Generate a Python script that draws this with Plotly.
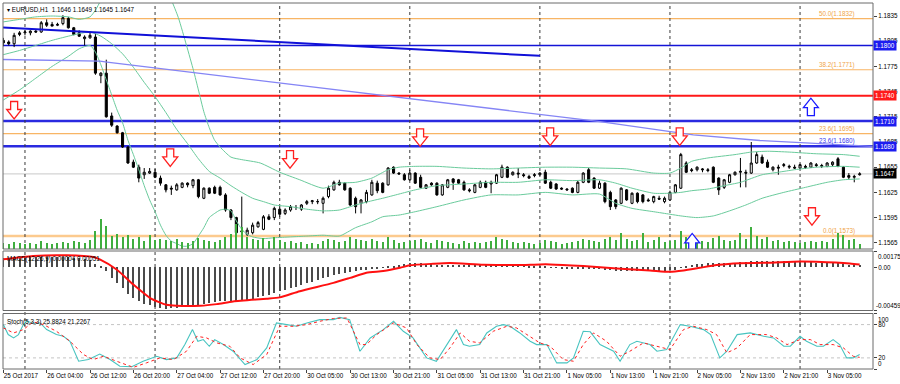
import plotly.graph_objects as go

# ---------------- data ----------------
bars = list(range(159))

open_ = [1.1806,1.1804,1.1802,1.1813,1.1815,1.1815,1.1817,1.1816,1.1827,1.1825,
 1.1824,1.1826,1.1832,1.1821,1.1815,1.1808,1.1809,1.1810,1.1764,1.1767,
 1.1716,1.1704,1.1696,1.1679,1.1661,1.1655,1.1646,1.1648,1.1649,1.1642,
 1.1634,1.1630,1.1628,1.1631,1.1636,1.1633,1.1640,1.1618,1.1630,1.1631,
 1.1631,1.1622,1.1604,1.1595,1.1578,1.1575,1.1577,1.1584,1.1581,1.1596,
 1.1595,1.1605,1.1600,1.1604,1.1607,1.1605,1.1612,1.1614,1.1614,1.1612,
 1.1620,1.1628,1.1637,1.1636,1.1630,1.1618,1.1612,1.1614,1.1622,1.1636,
 1.1636,1.1634,1.1655,1.1648,1.1646,1.1640,1.1648,1.1643,1.1630,1.1636,
 1.1636,1.1622,1.1631,1.1641,1.1640,1.1637,1.1628,1.1625,1.1631,1.1637,
 1.1635,1.1636,1.1643,1.1655,1.1646,1.1648,1.1646,1.1644,1.1645,1.1646,
 1.1649,1.1637,1.1635,1.1630,1.1629,1.1630,1.1625,1.1637,1.1652,1.1642,
 1.1630,1.1636,1.1625,1.1616,1.1612,1.1628,1.1612,1.1624,1.1622,1.1616,
 1.1614,1.1618,1.1614,1.1616,1.1625,1.1630,1.1660,1.1652,1.1652,1.1653,
 1.1652,1.1655,1.1642,1.1631,1.1637,1.1646,1.1649,1.1649,1.1648,1.1660,
 1.1667,1.1661,1.1652,1.1655,1.1657,1.1655,1.1655,1.1654,1.1656,1.1655,
 1.1658,1.1656,1.1656,1.1658,1.1665,1.1655,1.1645,1.1643,1.1646]
high = [1.1809,1.1806,1.1815,1.1817,1.1818,1.1818,1.1819,1.1829,1.1831,1.1828,
 1.1827,1.1836,1.1834,1.1822,1.1818,1.1812,1.1815,1.1814,1.1768,1.1783,
 1.1720,1.1705,1.1697,1.1680,1.1664,1.1658,1.1654,1.1654,1.1653,1.1645,
 1.1635,1.1633,1.1636,1.1637,1.1637,1.1641,1.1641,1.1631,1.1631,1.1633,
 1.1633,1.1624,1.1605,1.1596,1.1620,1.1583,1.1589,1.1591,1.1598,1.1599,
 1.1608,1.1608,1.1606,1.1610,1.1610,1.1611,1.1616,1.1616,1.1617,1.1620,
 1.1633,1.1639,1.1640,1.1637,1.1631,1.1620,1.1617,1.1628,1.1640,1.1639,
 1.1637,1.1655,1.1656,1.1649,1.1648,1.1652,1.1649,1.1646,1.1635,1.1637,
 1.1637,1.1635,1.1641,1.1642,1.1641,1.1639,1.1630,1.1635,1.1639,1.1639,
 1.1639,1.1647,1.1658,1.1656,1.1650,1.1654,1.1648,1.1646,1.1648,1.1649,
 1.1652,1.1639,1.1636,1.1631,1.1630,1.1631,1.1639,1.1649,1.1654,1.1643,
 1.1639,1.1637,1.1627,1.1617,1.1631,1.1629,1.1625,1.1625,1.1623,1.1618,
 1.1621,1.1621,1.1620,1.1627,1.1635,1.1672,1.1662,1.1654,1.1656,1.1654,
 1.1654,1.1656,1.1643,1.1641,1.1647,1.1650,1.1666,1.1652,1.1685,1.1673,
 1.1670,1.1664,1.1656,1.1658,1.1660,1.1658,1.1658,1.1659,1.1658,1.1661,
 1.1660,1.1659,1.1661,1.1662,1.1667,1.1656,1.1648,1.1646,1.1649]
low = [1.1799,1.1800,1.1798,1.1811,1.1812,1.1812,1.1815,1.1815,1.1822,1.1823,
 1.1823,1.1824,1.1820,1.1812,1.1810,1.1800,1.1808,1.1765,1.1755,1.1714,
 1.1703,1.1695,1.1678,1.1659,1.1654,1.1637,1.1641,1.1647,1.1642,1.1633,
 1.1625,1.1622,1.1627,1.1630,1.1631,1.1630,1.1618,1.1617,1.1623,1.1623,
 1.1621,1.1602,1.1592,1.1574,1.1573,1.1573,1.1575,1.1583,1.1580,1.1592,
 1.1592,1.1596,1.1598,1.1602,1.1604,1.1603,1.1610,1.1611,1.1611,1.1600,
 1.1618,1.1627,1.1633,1.1627,1.1609,1.1600,1.1600,1.1612,1.1621,1.1624,
 1.1624,1.1633,1.1647,1.1646,1.1639,1.1639,1.1635,1.1630,1.1629,1.1633,
 1.1621,1.1621,1.1630,1.1628,1.1635,1.1627,1.1625,1.1624,1.1630,1.1630,
 1.1624,1.1635,1.1642,1.1642,1.1645,1.1642,1.1643,1.1641,1.1643,1.1645,
 1.1635,1.1629,1.1628,1.1628,1.1627,1.1624,1.1624,1.1636,1.1636,1.1629,
 1.1629,1.1612,1.1604,1.1605,1.1611,1.1615,1.1611,1.1612,1.1612,1.1614,
 1.1612,1.1616,1.1612,1.1615,1.1624,1.1629,1.1648,1.1649,1.1650,1.1649,
 1.1649,1.1636,1.1622,1.1629,1.1636,1.1645,1.1631,1.1631,1.1647,1.1659,
 1.1659,1.1654,1.1650,1.1646,1.1655,1.1653,1.1653,1.1653,1.1653,1.1654,
 1.1655,1.1654,1.1655,1.1656,1.1655,1.1642,1.1640,1.1637,1.1645]
close = [1.1803,1.1802,1.1812,1.1815,1.1816,1.1817,1.1816,1.1827,1.1824,1.1823,
 1.1825,1.1833,1.1821,1.1813,1.1811,1.1810,1.1812,1.1767,1.1767,1.1715,
 1.1705,1.1696,1.1679,1.1660,1.1655,1.1642,1.1649,1.1650,1.1643,1.1636,
 1.1628,1.1629,1.1634,1.1636,1.1634,1.1640,1.1620,1.1630,1.1624,1.1624,
 1.1622,1.1604,1.1595,1.1577,1.1579,1.1580,1.1586,1.1589,1.1596,1.1593,
 1.1606,1.1599,1.1604,1.1608,1.1607,1.1610,1.1614,1.1615,1.1614,1.1618,
 1.1630,1.1637,1.1634,1.1628,1.1610,1.1608,1.1616,1.1625,1.1637,1.1627,
 1.1625,1.1654,1.1648,1.1647,1.1640,1.1648,1.1636,1.1631,1.1634,1.1634,
 1.1622,1.1634,1.1640,1.1637,1.1636,1.1628,1.1627,1.1634,1.1637,1.1631,
 1.1637,1.1646,1.1655,1.1643,1.1649,1.1647,1.1645,1.1642,1.1646,1.1648,
 1.1636,1.1630,1.1629,1.1629,1.1628,1.1625,1.1637,1.1648,1.1637,1.1630,
 1.1636,1.1614,1.1608,1.1608,1.1630,1.1616,1.1624,1.1614,1.1614,1.1615,
 1.1620,1.1617,1.1618,1.1625,1.1634,1.1670,1.1649,1.1651,1.1655,1.1652,
 1.1651,1.1637,1.1628,1.1640,1.1646,1.1649,1.1650,1.1648,1.1660,1.1670,
 1.1660,1.1655,1.1655,1.1654,1.1658,1.1656,1.1654,1.1658,1.1655,1.1660,
 1.1657,1.1657,1.1660,1.1661,1.1656,1.1643,1.1643,1.1644,1.1647]
volume = [600,500,700,600,500,600,500,800,600,500,600,700,600,800,700,600,900,
 1800,3000,2300,1300,1500,1200,1400,1000,1200,800,1400,900,1000,900,
 800,1000,700,600,800,1100,900,800,700,900,1200,1500,2500,2200,
 1200,1000,900,1100,800,1200,900,700,800,600,700,500,600,500,
 800,1000,900,700,800,1200,1000,900,800,1000,800,700,1200,900,
 600,700,800,900,1000,700,600,900,800,700,600,500,800,600,
 700,600,700,800,1200,1000,900,700,600,700,600,500,600,900,
 800,700,500,600,700,800,1000,900,800,700,1000,1200,900,1600,
 1000,800,900,1600,700,900,1200,700,800,900,1800,1200,1300,900,
 800,700,1100,1300,900,800,900,1600,1000,2200,1300,1000,1200,800,
 900,700,800,700,600,700,800,700,800,700,1000,1600,1400,900,1000,500]

bb_up_x = [0,3,6,9,12,14,16,17,18,19,21,24,27,29,31,32.3,33.8,35.1,36,37,38,39,40,42,44,
           47.4,51,54.7,59,62,65,68,71,73,76,80,85,90,95,100,105,110,115,120,123,125,127,
           130,135,138,141,145,150,155,158]
bb_up = [1.1828,1.1831,1.1834,1.1835,1.1834,1.1831,1.1834,1.1842,1.1854,1.1872,1.1896,1.1902,
         1.1896,1.1878,1.1854,1.1833,1.1800,1.1770,1.1747,1.1721,1.1702,1.1687,1.1679,1.1667,
         1.1664,1.1660,1.1649,1.1640,1.1630,1.1636,1.1637,1.1642,1.1652,1.1655,1.1656,1.1656,
         1.1654,1.1653,1.1654,1.1655,1.1655,1.1654,1.1653,1.1648,1.1648,1.1654,1.1662,1.1666,
         1.1670,1.1673,1.1674,1.1673,1.1671,1.1670,1.1668]
bb_mid_x = [0,3,6,9,12,14,16,18,20,22,24,26,28,30,32,34,36,38,40,42,44,46,48,50,53,56,59,62,
            65,68,70,73,76,80,85,90,95,100,105,110,113,116,120,123,125,127,130,133,136,140,
            143,146,150,155,158]
bb_mid = [1.1789,1.1794,1.1800,1.1806,1.1811,1.1814,1.1816,1.1811,1.1802,1.1790,1.1774,1.1756,
          1.1739,1.1720,1.1700,1.1683,1.1665,1.1650,1.1642,1.1633,1.1625,1.1618,1.1614,1.1610,
          1.1608,1.1605,1.1603,1.1604,1.1610,1.1615,1.1618,1.1623,1.1628,1.1633,1.1635,1.1637,
          1.1637,1.1640,1.1639,1.1640,1.1636,1.1630,1.1624,1.1624,1.1625,1.1627,1.1629,1.1633,
          1.1637,1.1646,1.1649,1.1652,1.1655,1.1656,1.1655]
bb_low_x = [0,3,6,9,12,14,16,17,18,19,20,21,22,23,24,25,26,27,28,29,30,31,32,33,34,35,36,37,
            38,39,40,41,42,43,44,45,46,48,50,53,56,59,62,65,68,70,73,76,80,85,90,95,100,105,
            110,113,116,120,123,125,128,131,134,137,140,144,148,152,155,158]
bb_low = [1.1735,1.1747,1.1761,1.1775,1.1787,1.1796,1.1800,1.1792,1.1777,1.1759,1.1741,1.1723,
          1.1708,1.1687,1.1670,1.1652,1.1633,1.1616,1.1602,1.1586,1.1574,1.1567,1.1564,1.1561,
          1.1561,1.1564,1.1573,1.1583,1.1595,1.1600,1.1604,1.1605,1.1603,1.1591,1.1581,1.1575,
          1.1572,1.1570,1.1571,1.1572,1.1573,1.1574,1.1573,1.1583,1.1590,1.1596,1.1598,1.1602,
          1.1608,1.1616,1.1622,1.1622,1.1625,1.1622,1.1623,1.1612,1.1606,1.1602,1.1599,1.1597,
          1.1595,1.1597,1.1603,1.1610,1.1618,1.1625,1.1631,1.1637,1.1640,1.1641]

macd_hist = [0.00097,0.00097,0.00100,0.00104,0.00104,0.00108,0.00108,0.00111,0.00111,0.00111,
 0.00111,0.00115,0.00111,0.00104,0.00097,0.00086,0.00079,0.00039,0.00018,-0.00039,
 -0.00111,-0.00165,-0.00219,-0.00283,-0.00326,-0.00362,-0.00387,-0.00405,-0.00423,-0.00434,
 -0.00441,-0.00437,-0.00430,-0.00423,-0.00412,-0.00401,-0.00398,-0.00387,-0.00376,-0.00366,
 -0.00358,-0.00358,-0.00362,-0.00362,-0.00355,-0.00344,-0.00333,-0.00319,-0.00305,-0.00290,
 -0.00272,-0.00254,-0.00240,-0.00222,-0.00204,-0.00186,-0.00168,-0.00151,-0.00133,-0.00115,
 -0.00097,-0.00082,-0.00068,-0.00057,-0.00047,-0.00039,-0.00032,-0.00025,-0.00018,-0.00011,
 -0.00004,0.00007,0.00018,0.00025,0.00036,0.00043,0.00047,0.00043,0.00039,0.00036,
 0.00029,0.00025,0.00025,0.00025,0.00025,0.00022,0.00022,0.00022,0.00022,0.00025,
 0.00025,0.00029,0.00032,0.00032,0.00029,0.00025,0.00022,0.00018,0.00014,0.00011,
 0.00011,0.00004,-0.00004,-0.00007,-0.00011,-0.00014,-0.00014,-0.00011,-0.00011,-0.00014,
 -0.00018,-0.00025,-0.00032,-0.00036,-0.00036,-0.00036,-0.00036,-0.00039,-0.00039,-0.00039,
 -0.00039,-0.00039,-0.00036,-0.00032,-0.00025,-0.00004,0.00011,0.00022,0.00032,0.00039,
 0.00043,0.00047,0.00043,0.00043,0.00047,0.00050,0.00054,0.00057,0.00065,0.00068,
 0.00068,0.00068,0.00065,0.00065,0.00065,0.00061,0.00061,0.00061,0.00057,0.00054,
 0.00050,0.00047,0.00047,0.00043,0.00043,0.00036,0.00029,0.00025,0.00022]
macd_sig_x = [0,5.5,11.7,16.6,17.8,20.9,24,27.1,30.1,32,36.3,39.4,42.4,48.6,51,54.7,60.9,64,67,
              70.1,73.2,75,79.3,82.4,88.6,94.7,99,100.9,107,113.2,119.3,123,125.5,128.5,131.6,
              134.7,140.8,147,150,156.2,158]
macd_sig = [0.00086,0.00122,0.00129,0.00111,0.00086,-0.00022,-0.00183,-0.00326,-0.00398,-0.00409,
            -0.00409,-0.00391,-0.00362,-0.00333,-0.00319,-0.00254,-0.00165,-0.00111,-0.00057,
            -0.00039,-0.00004,0.00022,0.00039,0.00047,0.00029,0.00025,0.00032,0.00032,0.00014,
            -0.00011,-0.00032,-0.00047,-0.00032,-0.00004,0.00025,0.00043,0.00050,0.00064,0.00061,
            0.00043,0.00032]

stoch_main_x = [0,0.9,1.9,2.8,3.7,4.3,5.5,6.8,8,9.8,11.1,12.3,13.9,15.7,17.8,19.7,21.5,23.7,25.8,
                28.3,30.1,32,33.5,34.9,35.9,36.9,38,39,40.6,42.4,44.6,46.8,48.6,50.4,52.3,54.1,
                56,58.4,60.9,62.1,63.9,65.8,67.7,70.1,72,73.8,75.6,78.1,79.9,82.4,83.6,84.9,86,
                87.9,89.2,91,92.3,93.5,95.3,97.2,98.4,100.3,102.1,104,105.2,107,108.3,110.1,
                112.6,113.8,115.6,116.9,119.3,120.6,122.4,124.9,126.7,129.2,130.5,132.2,133.5,
                135.4,137.8,140.3,142.1,144,145.2,147,148.2,150.1,151.3,153.1,154.3,155.6,156.8,158]
stoch_main = [80,62,56,62,80,86,83,83,71,62,59,50,14,17,27,17,5,4,14,23,17,20,44,71,50,53,41,53,
              44,32,8,17,38,83,80,77,83,89,89,93,89,32,56,71,86,68,56,20,14,53,71,44,41,44,65,
              77,80,77,65,50,44,44,11,11,20,68,67,44,32,14,44,50,44,32,35,80,77,71,62,20,32,62,
              65,59,56,41,41,59,50,41,41,53,44,20,20,26]
stoch_sig_x = [0,1.9,3.7,5.5,7.4,9.8,12.3,14.8,16.6,18.5,20.9,24,26.4,28.9,31.4,33.8,35.7,37.5,
               39.4,41.8,43.7,46.1,48.6,51,53.5,56,58.4,60.9,63.4,65.8,67,68.9,72,74.4,76.3,78.7,
               80.6,82.4,84.3,86,87.9,90.4,92.9,94.7,96.6,99,100.9,103.3,105.2,107,108.9,111.3,
               113.8,115.6,118.1,120.6,123,125.5,127.3,129.8,131.6,133.5,135.4,137.8,140.8,142.7,
               144.6,147,148.9,150.7,153.1,155,156.8,158]
stoch_sig = [74,65,71,85,80,68,50,26,17,23,14,3,11,20,17,32,59,56,47,41,20,8,26,77,77,80,86,91,
             92,44,44,62,83,74,44,20,17,38,65,50,47,68,77,74,62,47,41,17,14,44,65,50,23,32,47,
             41,35,71,77,71,62,29,38,62,62,56,44,53,53,44,44,38,23,21]

x_tick_bars = [0,8,16,24,32,40,48,56,64,72,80,88,96,104,112,120,128,136,144,152]
x_tick_labels = ["25 Oct 2017","26 Oct 04:00","26 Oct 12:00","26 Oct 20:00","27 Oct 04:00",
                 "27 Oct 12:00","27 Oct 20:00","30 Oct 05:00","30 Oct 13:00","30 Oct 21:00",
                 "31 Oct 05:00","31 Oct 13:00","31 Oct 21:00","1 Nov 05:00","1 Nov 13:00",
                 "1 Nov 21:00","2 Nov 05:00","2 Nov 13:00","2 Nov 21:00","3 Nov 05:00"]
day_starts = [4, 28, 51, 75, 99, 123, 147]
price_ticks = [1.1835,1.1805,1.1775,1.1745,1.1715,1.1685,1.1655,1.1625,1.1595,1.1565]

fib_levels = [1.1832, 1.1771, 1.1695, 1.1573]
fib_labels = ["50.0(1.1832)", "38.2(1.1771)", "23.6(1.1695)", "0.0(1.1573)"]
blue_levels = [1.1800, 1.1710, 1.1680]
red_level = 1.1740
bid_price = 1.1647

trend_dark_x = [-0.06, 99.0]
trend_dark_y = [1.18213, 1.17876]
trend_light_x = [-0.06, 17.84, 19.13, 110.1, 127.3, 139.6, 160.5]
trend_light_y = [1.17832, 1.17814, 1.17802, 1.17092, 1.16934, 1.16868, 1.16797]

down_arrow_x = [2.0, 30.8, 52.9, 76.9, 100.9, 124.8, 149.2]
down_arrow_y = [1.17225, 1.1666, 1.1664, 1.1690, 1.1691, 1.1691, 1.1596]
up_arrow_x = [149.0, 127.1]
up_arrow_y = [1.1727, 1.1566]

# ---------------- layout geometry ----------------
W, H = 900, 384
ML, MR, MT, MB = 3, 27, 3, 15
PH = H - MT - MB


def yp(px):
    return (H - MB - px) / PH


main_dom = [yp(249), 1.0]
macd_dom = [yp(310.5), yp(251)]
stoch_dom = [0.0, yp(313.5)]
FONT = "Liberation Sans"
FS = 6.3

fig = go.Figure()

# volume
fig.add_trace(go.Bar(x=bars, y=volume, width=0.2, marker=dict(color="#3fae3f", line=dict(width=0)),
                     xaxis="x", yaxis="y4", hoverinfo="skip", showlegend=False))
# bollinger bands
for bx, by in [(bb_up_x, bb_up), (bb_mid_x, bb_mid), (bb_low_x, bb_low)]:
    fig.add_trace(go.Scatter(x=bx, y=by, mode="lines", line=dict(color="#6acb9c", width=1,
                             shape="spline", smoothing=0.6), xaxis="x", yaxis="y",
                             hoverinfo="skip", showlegend=False))
# trend lines
fig.add_trace(go.Scatter(x=trend_light_x, y=trend_light_y, mode="lines",
                         line=dict(color="#8585f5", width=1.3), xaxis="x", yaxis="y",
                         hoverinfo="skip", showlegend=False))
fig.add_trace(go.Scatter(x=trend_dark_x, y=trend_dark_y, mode="lines",
                         line=dict(color="#1010d8", width=2), xaxis="x", yaxis="y",
                         hoverinfo="skip", showlegend=False))
# candles
fig.add_trace(go.Candlestick(x=bars, open=open_, high=high, low=low, close=close,
                             increasing=dict(line=dict(color="black", width=1), fillcolor="white"),
                             decreasing=dict(line=dict(color="black", width=1), fillcolor="black"),
                             whiskerwidth=0, xaxis="x", yaxis="y", hoverinfo="skip",
                             showlegend=False))
# MACD
fig.add_trace(go.Bar(x=bars, y=macd_hist, width=0.2, marker=dict(color="#4a4a4a", line=dict(width=0)),
                     xaxis="x", yaxis="y2", hoverinfo="skip", showlegend=False))
fig.add_trace(go.Scatter(x=macd_sig_x, y=macd_sig, mode="lines",
                         line=dict(color="#ff1010", width=2, shape="spline", smoothing=0.6),
                         xaxis="x", yaxis="y2", hoverinfo="skip", showlegend=False))
# Stochastic
fig.add_trace(go.Scatter(x=stoch_main_x, y=stoch_main, mode="lines",
                         line=dict(color="#48c4c0", width=1.1), xaxis="x", yaxis="y3",
                         hoverinfo="skip", showlegend=False))
fig.add_trace(go.Scatter(x=stoch_sig_x, y=stoch_sig, mode="lines",
                         line=dict(color="#ff2020", width=1, dash="dot"), xaxis="x", yaxis="y3",
                         hoverinfo="skip", showlegend=False))

shapes = []
# horizontal levels
for lv in fib_levels[:3]:
    shapes.append(dict(type="line", xref="paper", yref="y", x0=0, x1=1, y0=lv, y1=lv,
                       line=dict(color="#f8b565", width=1.2), layer="below"))
shapes.append(dict(type="line", xref="paper", yref="y", x0=0, x1=1, y0=fib_levels[3], y1=fib_levels[3],
                   line=dict(color="#fcca8e", width=2.5), layer="below"))
shapes.append(dict(type="line", xref="paper", yref="y", x0=0, x1=1, y0=blue_levels[0], y1=blue_levels[0],
                   line=dict(color="#1414d6", width=1.5), layer="below"))
for lv in blue_levels[1:]:
    shapes.append(dict(type="line", xref="paper", yref="y", x0=0, x1=1, y0=lv, y1=lv,
                       line=dict(color="#2a2ae0", width=2.5), layer="below"))
shapes.append(dict(type="line", xref="paper", yref="y", x0=0, x1=1, y0=red_level, y1=red_level,
                   line=dict(color="#ff1818", width=2), layer="below"))
shapes.append(dict(type="line", xref="paper", yref="y", x0=0, x1=1, y0=bid_price, y1=bid_price,
                   line=dict(color="#c8c8c8", width=1), layer="below"))
# day separators
for d in day_starts:
    shapes.append(dict(type="line", xref="x", yref="paper", x0=d, x1=d, y0=0, y1=1,
                       line=dict(color="#3a3a3a", width=1, dash="dot"), layer="below"))
# stochastic levels
for lv in (80, 20):
    shapes.append(dict(type="line", xref="paper", yref="y3", x0=0, x1=1, y0=lv, y1=lv,
                       line=dict(color="#c4c4c4", width=1, dash="dot"), layer="below"))
# arrows
down_path = "M-3.5,9 L3.5,9 L3.5,1 L7.5,1 L0,-8.5 L-7.5,1 L-3.5,1 Z"
up_path = "M-3.5,-9 L3.5,-9 L3.5,-1 L7.5,-1 L0,8.5 L-7.5,-1 L-3.5,-1 Z"
for ax, ay in zip(down_arrow_x, down_arrow_y):
    shapes.append(dict(type="path", xref="x", yref="y", xsizemode="pixel", ysizemode="pixel",
                       xanchor=ax, yanchor=ay, path=down_path, fillcolor="white",
                       line=dict(color="#ff2020", width=1.3), layer="above"))
for ax, ay in zip(up_arrow_x, up_arrow_y):
    shapes.append(dict(type="path", xref="x", yref="y", xsizemode="pixel", ysizemode="pixel",
                       xanchor=ax, yanchor=ay, path=up_path, fillcolor="white",
                       line=dict(color="#1a1aff", width=1.3), layer="above"))
# panel frames
for dom in (main_dom, macd_dom, stoch_dom):
    shapes.append(dict(type="rect", xref="paper", yref="paper", x0=0, x1=1, y0=dom[0], y1=dom[1],
                       line=dict(color="#6a6a6a", width=1), fillcolor="rgba(0,0,0,0)", layer="above"))

ann = []
ann.append(dict(xref="paper", yref="paper", x=0.002, y=1, xanchor="left", yanchor="top", yshift=-1,
                text="▾ EURUSD,H1  1.1646 1.1649 1.1645 1.1647", showarrow=False,
                font=dict(family=FONT, size=FS, color="black")))
ann.append(dict(xref="paper", yref="paper", x=0.002, y=macd_dom[1], xanchor="left", yanchor="top",
                yshift=-2, text="MACD(12,26,9) 0.00004 0.00051", showarrow=False,
                font=dict(family=FONT, size=FS, color="black")))
ann.append(dict(xref="paper", yref="paper", x=0.002, y=stoch_dom[1], xanchor="left", yanchor="top",
                yshift=-2, text="Stoch(5,3,3) 25.8824 21.2267", showarrow=False,
                font=dict(family=FONT, size=FS, color="black")))
fib_x = (857 - ML) / (W - ML - MR)
for lv, t in zip(fib_levels, fib_labels):
    ann.append(dict(xref="paper", yref="y", x=fib_x, y=lv, xanchor="right", yanchor="bottom",
                    yshift=-1, text=t, showarrow=False,
                    font=dict(family=FONT, size=FS, color="#f0a448")))
ann.append(dict(xref="paper", yref="y", x=fib_x, y=blue_levels[2], xanchor="right", yanchor="bottom",
                yshift=-1, text="23.6(1.1680)", showarrow=False,
                font=dict(family=FONT, size=FS, color="#3a3af0")))
for lv, bg in [(blue_levels[0], "#1c1cf0"), (red_level, "#ff1a1a"), (blue_levels[1], "#1c1cf0"),
               (blue_levels[2], "#1c1cf0"), (bid_price, "#000000")]:
    ann.append(dict(xref="paper", yref="y", x=1, y=lv, xanchor="left", yanchor="middle", xshift=0,
                    text="%.4f" % lv, showarrow=False, bgcolor=bg, borderpad=1,
                    font=dict(family=FONT, size=FS, color="white")))
ann.append(dict(xref="paper", yref="y2", x=1, y=0.00175, xanchor="left", yanchor="top", xshift=3,
                text="0.00175", showarrow=False, font=dict(family=FONT, size=FS, color="black")))
ann.append(dict(xref="paper", yref="y2", x=1, y=-0.00459, xanchor="left", yanchor="bottom", xshift=1,
                text="-0.00459", showarrow=False, font=dict(family=FONT, size=FS, color="black")))
ann.append(dict(xref="paper", yref="y3", x=1, y=100, xanchor="left", yanchor="top", xshift=3,
                text="100", showarrow=False, font=dict(family=FONT, size=FS, color="black")))
ann.append(dict(xref="paper", yref="y3", x=1, y=0, xanchor="left", yanchor="bottom", xshift=3,
                text="0", showarrow=False, font=dict(family=FONT, size=FS, color="black")))

yax_common = dict(side="right", anchor="x", showgrid=False, zeroline=False, ticks="outside",
                  ticklen=3, tickcolor="#404040", tickfont=dict(family=FONT, size=FS, color="black"),
                  showline=False, fixedrange=True)

fig.update_layout(
    width=W, height=H, margin=dict(l=ML, r=MR, t=MT, b=MB, pad=0, autoexpand=False),
    paper_bgcolor="white", plot_bgcolor="white", showlegend=False, bargap=0,
    boxgap=0.45,
    font=dict(family=FONT, size=FS, color="black"),
    xaxis=dict(domain=[0, 1], anchor="y3", range=[-0.055, 160.46], showgrid=False, zeroline=False,
               tickvals=x_tick_bars, ticktext=x_tick_labels, ticks="outside", ticklen=3,
               tickangle=0, tickcolor="#404040", ticklabelposition="outside right",
               tickfont=dict(family=FONT, size=FS, color="black"), rangeslider=dict(visible=False),
               showline=False, fixedrange=True, automargin=False),
    yaxis=dict(domain=main_dom, range=[1.15576, 1.18505], tickvals=price_ticks,
               ticktext=["%.4f" % v for v in price_ticks], automargin=False, **yax_common),
    yaxis2=dict(domain=macd_dom, range=[-0.00459, 0.00175], tickvals=[0.00175, 0, -0.00459],
                ticktext=["", "0.00", ""], automargin=False, **yax_common),
    yaxis3=dict(domain=stoch_dom, range=[0, 100], tickvals=[100, 80, 20, 0],
                ticktext=["", "80", "20", ""], automargin=False, **yax_common),
    yaxis4=dict(overlaying="y", range=[0, 24600], visible=False, fixedrange=True),
    shapes=shapes, annotations=ann,
)

fig.write_html("out.html", config={"displayModeBar": False},
               post_script="document.body.style.margin='0px';document.body.style.overflow='hidden';")
